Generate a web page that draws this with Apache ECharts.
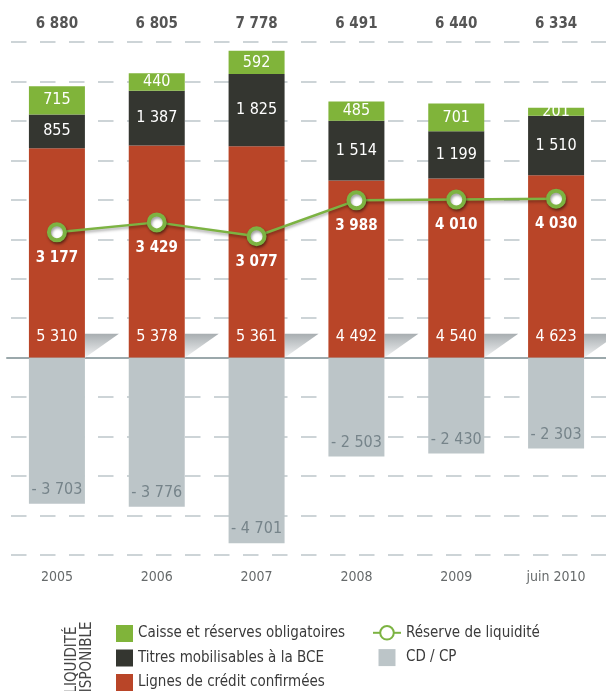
<!DOCTYPE html>
<html>
<head>
<meta charset="utf-8">
<script src="https://cdn.jsdelivr.net/npm/echarts@6/dist/echarts.min.js"></script>
<style>
  html, body { margin: 0; padding: 0; background: #fff; }
  #chart { width: 606px; height: 691px; }
</style>
</head>
<body>
<div id="chart"></div>
<script>
// donnees (millions d'euros)
var categories = ['2005', '2006', '2007', '2008', '2009', 'juin 2010'];
var totals = [6880, 6805, 7778, 6491, 6440, 6334];
var lignes = [5310, 5378, 5361, 4492, 4540, 4623];
var titres = [855, 1387, 1825, 1514, 1199, 1510];
var caisse = [715, 440, 592, 485, 701, 201];
var cdcp = [-3703, -3776, -4701, -2503, -2430, -2303];
var reserve = [3177, 3429, 3077, 3988, 4010, 4030];

var FONT = '"Liberation Sans Narrow", "DejaVu Sans Condensed", sans-serif';

// 6880 -> "6 880", -3703 -> "- 3 703"
function fmt(v) {
    var s = Math.abs(v).toString().replace(/\B(?=(\d{3})+(?!\d))/g, ' ');
    return v < 0 ? '- ' + s : s;
}

var chart = echarts.init(document.getElementById('chart'), null, { renderer: 'canvas' });

// petite ombre a droite du pied de chaque barre rouge
function renderFold(params, api) {
    var p = api.coord([api.value(0), 0]);
    var half = 28;
    var x0 = p[0] + half;
    var y0 = p[1];
    return {
        type: 'polygon',
        shape: { points: [[x0, y0 - 24], [x0 + 34, y0 - 24], [x0, y0]] },
        style: {
            fill: new echarts.graphic.LinearGradient(0, 0, 0, 1, [
                { offset: 0, color: '#a7adb0' },
                { offset: 1, color: '#f2f3f4' }
            ])
        }
    };
}

var barLabel = {
    show: true,
    color: '#fff',
    fontFamily: FONT,
    fontSize: 16,
    formatter: function (p) { return fmt(p.value); }
};

var legendText = { color: '#3a3a3a', fontSize: 15, fontFamily: FONT };

var option = {
    animation: false,
    textStyle: { fontFamily: FONT },
    grid: { left: 7, right: -5, top: 42, bottom: 136 },
    legend: [{
        orient: 'vertical',
        left: 116,
        top: 625,
        height: 90,
        padding: 0,
        itemWidth: 17,
        itemHeight: 17,
        itemGap: 7.5,
        textStyle: legendText,
        data: [
            { name: 'Caisse et réserves obligatoires', icon: 'rect' },
            { name: 'Titres mobilisables à la BCE', icon: 'rect' },
            { name: 'Lignes de crédit confirmées', icon: 'rect' }
        ]
    }, {
        orient: 'vertical',
        left: 372,
        top: 625,
        height: 90,
        padding: 0,
        itemWidth: 28,
        itemHeight: 17,
        itemGap: 8.5,
        textStyle: legendText,
        data: ['Réserve de liquidité', { name: 'CD / CP', icon: 'path://M0,0h10v10h-10z' }]
    }],
    xAxis: [{
        type: 'category',
        data: categories,
        axisLine: { onZero: true, lineStyle: { color: '#9ba8ab', width: 2 } },
        axisTick: { show: false },
        axisLabel: { color: '#666a6b', fontSize: 14, margin: 15, fontFamily: FONT },
        position: 'bottom'
    }, {
        type: 'category',
        data: totals.map(fmt),
        position: 'top',
        axisLine: { show: false },
        axisTick: { show: false },
        axisLabel: { color: '#555', fontSize: 15, fontWeight: 'bold', margin: 10, fontFamily: FONT }
    }],
    yAxis: {
        type: 'value',
        min: -5000,
        max: 8000,
        interval: 1000,
        axisLabel: { show: false },
        axisLine: { show: false },
        axisTick: { show: false },
        splitLine: {
            lineStyle: { color: '#cdd4d7', width: 2, type: [15.5, 13.5], dashOffset: 25 }
        }
    },
    series: [{
        name: 'Lignes de crédit confirmées',
        type: 'bar',
        stack: 'liq',
        barWidth: 56,
        data: lignes,
        itemStyle: { color: '#b94528' },
        label: echarts.util.merge({ position: 'insideBottom', distance: 13 }, barLabel)
    }, {
        name: 'Titres mobilisables à la BCE',
        type: 'bar',
        stack: 'liq',
        data: titres,
        itemStyle: { color: '#343630' },
        label: echarts.util.merge({ position: 'inside' }, barLabel)
    }, {
        name: 'Caisse et réserves obligatoires',
        type: 'bar',
        stack: 'liq',
        data: caisse,
        itemStyle: { color: '#80b43a' },
        label: echarts.util.merge({ position: 'inside' }, barLabel)
    }, {
        name: 'CD / CP',
        type: 'bar',
        stack: 'liq',
        data: cdcp,
        itemStyle: { color: '#bcc5c8' },
        label: {
            show: true,
            position: 'insideBottom',
            distance: 6,
            color: '#76848a',
            fontSize: 16,
            fontFamily: FONT,
            formatter: function (p) { return fmt(p.value); }
        }
    }, {
        name: 'fold',
        type: 'custom',
        renderItem: renderFold,
        data: categories.map(function (c, i) { return [i]; }),
        silent: true,
        z: 1
    }, {
        name: 'Réserve de liquidité',
        type: 'line',
        data: reserve,
        z: 5,
        symbol: 'circle',
        symbolSize: 16,
        lineStyle: {
            color: '#7cb342', width: 2.5,
            shadowColor: 'rgba(0,0,0,0.35)', shadowBlur: 3, shadowOffsetY: 2
        },
        itemStyle: {
            color: '#fff', borderColor: '#7cb342', borderWidth: 4,
            shadowColor: 'rgba(0,0,0,0.4)', shadowBlur: 3, shadowOffsetX: 1, shadowOffsetY: 2
        },
        label: {
            show: true,
            position: 'bottom',
            distance: 8,
            color: '#fff',
            fontSize: 15,
            fontWeight: 'bold',
            fontFamily: FONT,
            formatter: function (p) { return fmt(p.value); }
        }
    }],
    graphic: [{
        type: 'text',
        x: 72,
        y: 660,
        rotation: Math.PI / 2,
        style: { text: 'LIQUIDITÉ', fill: '#444', font: '15px ' + FONT, textAlign: 'center', textVerticalAlign: 'middle' }
    }, {
        type: 'text',
        x: 87,
        y: 662,
        rotation: Math.PI / 2,
        style: { text: 'DISPONIBLE', fill: '#444', font: '15px ' + FONT, textAlign: 'center', textVerticalAlign: 'middle' }
    }]
};

chart.setOption(option);
</script>
</body>
</html>
